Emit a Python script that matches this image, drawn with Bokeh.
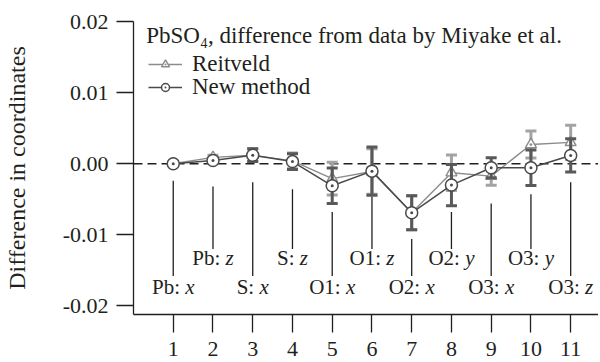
import math
from bokeh.plotting import figure
from bokeh.models import (ColumnDataSource, Whisker, TeeHead, Span, Label,
                          Legend, LegendItem, PrintfTickFormatter)
from bokeh.embed import file_html
from bokeh.resources import INLINE
from bokeh.core.properties import value

# ---------------- data ----------------
idx = [1, 2, 3, 4, 5, 6, 7, 8, 9, 10, 11]
atom = ["Pb:", "Pb:", "S:", "S:", "O1:", "O1:", "O2:", "O2:", "O3:", "O3:", "O3:"]
coord = ["x", "z", "x", "z", "x", "z", "x", "y", "x", "y", "z"]

new_y = [0.0000, 0.00046, 0.0012, 0.0003, -0.0031, -0.00104, -0.0069, -0.0030, -0.00056, -0.00056, 0.00117]
new_err = [0.0002, 0.0003, 0.0009, 0.0011, 0.0025, 0.0034, 0.0024, 0.0029, 0.0014, 0.0025, 0.00235]
rei_y = [0.0000, 0.0009, 0.0012, 0.0004, -0.0021, -0.0011, -0.0069, -0.00126, -0.00174, 0.0027, 0.0030]
rei_err = [0.0002, 0.0003, 0.0009, 0.0011, 0.0023, 0.0032, 0.0024, 0.0025, 0.0013, 0.0019, 0.0024]

# leader lines for the coordinate labels
lead_top = [-0.0024, -0.0032, -0.0026, -0.0036, -0.0068, -0.0046, -0.0106, -0.0068, -0.0056, -0.0043, -0.0026]
lead_bot = [-0.0158, -0.0120, -0.0158, -0.0120, -0.0158, -0.0120, -0.0158, -0.0120, -0.0158, -0.0120, -0.0158]
lab_y = [-0.0173, -0.0132, -0.0173, -0.0132, -0.0173, -0.0132, -0.0173, -0.0132, -0.0173, -0.0132, -0.0173]

y_ticks = [-0.02, -0.01, 0.0, 0.01, 0.02]

title_text = "PbSO\u2084, difference from data by Miyake et al."
ylabel = "Difference in coordinates"

# ---------------- style ----------------
FONT = "Liberation Serif"
TXT = "#231f20"
DARK = "#4a4a4a"
DARK_BAR = "#595959"
LIGHT = "#8c8c8c"
LIGHT_BAR = "#a3a3a3"
FS = 22

p = figure(width=598, height=360, x_range=(0, 11.7), y_range=(-0.0212, 0.02),
           output_backend="svg", toolbar_location=None,
           min_border_left=132, min_border_right=0, min_border_top=21, min_border_bottom=46)
p.outline_line_color = None
p.xgrid.visible = False
p.ygrid.visible = False
p.background_fill_color = "white"

for ax in (p.xaxis, p.yaxis):
    ax.axis_line_color = TXT
    ax.axis_line_width = 1.3
    ax.major_tick_line_color = TXT
    ax.major_tick_line_width = 1.3
    ax.major_tick_in = 0
    ax.minor_tick_line_color = None
    ax.major_label_text_font = FONT
    ax.major_label_text_font_size = f"{FS}px"
    ax.major_label_text_color = TXT

p.xaxis.ticker = idx
p.xaxis.major_tick_out = 18
p.xaxis.major_label_standoff = 9

p.yaxis.ticker = y_ticks
p.yaxis.formatter = PrintfTickFormatter(format="%.2f")
p.yaxis.major_tick_out = 17
p.yaxis.major_label_standoff = 8
p.yaxis.axis_label = ylabel
p.yaxis.axis_label_text_font = FONT
p.yaxis.axis_label_text_font_style = "normal"
p.yaxis.axis_label_text_font_size = "24px"
p.yaxis.axis_label_text_color = TXT
p.yaxis.axis_label_standoff = 30

zero = Span(location=0, dimension="width", line_color=TXT, line_width=1.3,
            line_dash="9 5", level="underlay")
p.add_layout(zero)

# leader lines
lead_src = ColumnDataSource(dict(x=idx, y0=lead_top, y1=lead_bot))
p.segment(x0="x", y0="y0", x1="x", y1="y1", source=lead_src, line_color=TXT, line_width=1.3)

# coordinate labels: upright atom + italic coordinate, centred on x
W = {"P": .556, "b": .5, "S": .556, "O": .722, "1": .5, "2": .5, "3": .5, ":": .278,
     " ": .25, "x": .444, "y": .444, "z": .389}
LFS = 21
anchor = []
for a, c in zip(atom, coord):
    wa = sum(W[ch] for ch in a) * LFS
    wc = W[c] * LFS
    ws = W[" "] * LFS
    tot = wa + ws + wc
    anchor.append(-tot / 2 + wa)
lab_src = ColumnDataSource(dict(x=idx, y=lab_y, a=atom, c=coord,
                                off_a=anchor, off_c=[v + W[" "] * LFS for v in anchor]))
p.text(x="x", y="y", text="a", x_offset="off_a", source=lab_src, text_align="right",
       text_baseline="alphabetic", text_font=value(FONT), text_font_size=f"{LFS}px",
       text_color=TXT)
p.text(x="x", y="y", text="c", x_offset="off_c", source=lab_src, text_align="left",
       text_baseline="alphabetic", text_font=value(FONT), text_font_size=f"{LFS}px",
       text_font_style="italic", text_color=TXT)

# Reitveld
rsrc = ColumnDataSource(dict(x=idx, y=rei_y,
                             lo=[v - e for v, e in zip(rei_y, rei_err)],
                             hi=[v + e for v, e in zip(rei_y, rei_err)]))
p.add_layout(Whisker(base="x", lower="lo", upper="hi", source=rsrc, dimension="height",
                     line_color=LIGHT_BAR, line_width=3, level="underlay",
                     lower_head=TeeHead(size=11, line_color=LIGHT_BAR, line_width=3),
                     upper_head=TeeHead(size=11, line_color=LIGHT_BAR, line_width=3)))
r_line = p.line("x", "y", source=rsrc, line_color=LIGHT, line_width=1.4)
r_pts = p.scatter("x", "y", source=rsrc, marker="triangle_dot", size=11,
                  fill_color="white", line_color=LIGHT, line_width=1.4)

# New method
nsrc = ColumnDataSource(dict(x=idx, y=new_y,
                             lo=[v - e for v, e in zip(new_y, new_err)],
                             hi=[v + e for v, e in zip(new_y, new_err)]))
p.add_layout(Whisker(base="x", lower="lo", upper="hi", source=nsrc, dimension="height",
                     line_color=DARK_BAR, line_width=3, level="annotation",
                     lower_head=TeeHead(size=11, line_color=DARK_BAR, line_width=3),
                     upper_head=TeeHead(size=11, line_color=DARK_BAR, line_width=3)))
n_line = p.line("x", "y", source=nsrc, line_color=DARK, line_width=1.5, level="overlay")
n_pts = p.scatter("x", "y", source=nsrc, marker="circle_dot", size=12,
                  fill_color="white", line_color=DARK, line_width=1.5, level="overlay")

# title and legend
p.add_layout(Label(x=12.7, y=279, x_units="screen", y_units="screen", text=title_text,
                   text_font=FONT, text_font_size="23px", text_color=TXT,
                   text_baseline="alphabetic"))

def mk_legend(label, rends, loc):
    lg = Legend(items=[LegendItem(label=label, renderers=rends)], location=loc,
                border_line_color=None, background_fill_alpha=0, padding=0, margin=0,
                spacing=0, label_standoff=10, glyph_width=34, glyph_height=20,
                label_height=20, label_text_font=FONT, label_text_font_size="23px",
                label_text_color=TXT)
    p.add_layout(lg)

mk_legend("Reitveld", [r_line, r_pts], (15, 237))
mk_legend("New method", [n_line, n_pts], (15, 214))

open("out.html", "w").write(file_html(p, INLINE))
